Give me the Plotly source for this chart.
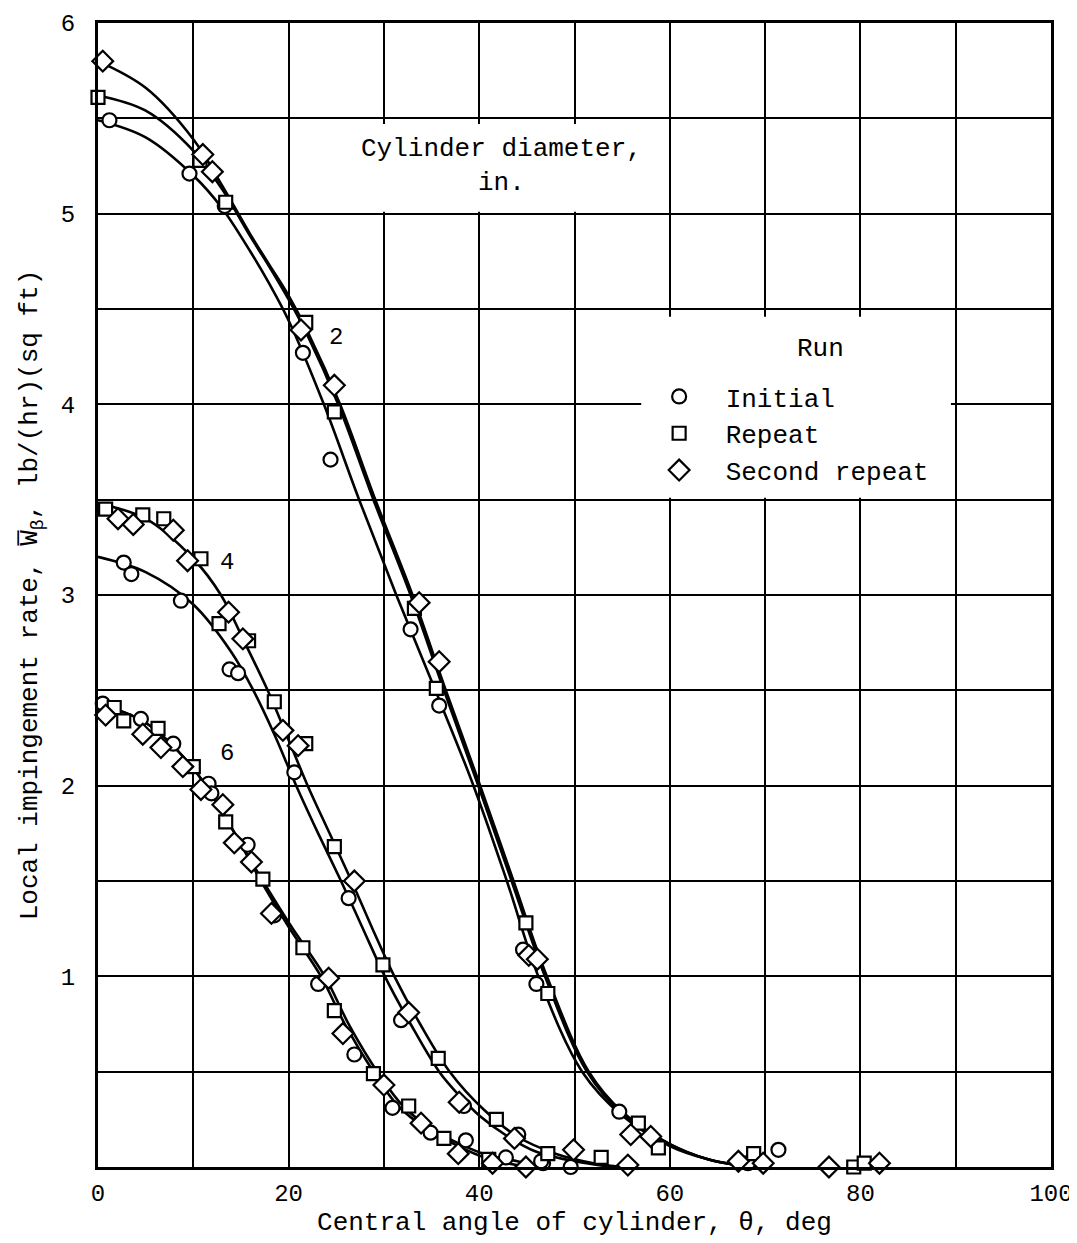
import plotly.graph_objects as go

# measured points, diameter 2 in.
d2_init_x = [1.2, 9.6, 13.3, 21.5, 24.4, 32.8, 35.8, 44.6, 46.0, 54.7, 68.2, 71.4]
d2_init_y = [5.49, 5.21, 5.04, 4.27, 3.71, 2.82, 2.42, 1.14, 0.96, 0.29, 0.02, 0.09]
d2_rep_x = [0.0, 10.7, 13.4, 21.8, 24.8, 33.2, 35.5, 44.9, 47.2, 56.7, 58.8, 68.8, 79.3, 80.4]
d2_rep_y = [5.61, 5.28, 5.06, 4.43, 3.96, 2.93, 2.51, 1.28, 0.91, 0.23, 0.10, 0.07, 0.0, 0.02]
d2_sec_x = [0.5, 11.0, 12.0, 21.3, 24.8, 33.7, 35.8, 45.2, 46.1, 55.9, 58.0, 67.2, 69.8, 76.7, 82.0]
d2_sec_y = [5.80, 5.31, 5.22, 4.39, 4.10, 2.96, 2.65, 1.11, 1.09, 0.17, 0.16, 0.03, 0.02, 0.0, 0.02]

# diameter 4 in.
d4_init_x = [2.7, 3.5, 8.7, 13.8, 14.7, 20.6, 26.3, 31.8, 38.4, 44.1, 46.7, 49.6]
d4_init_y = [3.17, 3.11, 2.97, 2.61, 2.59, 2.07, 1.41, 0.77, 0.32, 0.17, 0.02, 0.0]
d4_rep_x = [0.8, 4.7, 6.9, 10.8, 12.7, 15.8, 18.5, 21.8, 24.8, 29.9, 35.7, 41.8, 47.2, 52.8]
d4_rep_y = [3.45, 3.42, 3.40, 3.19, 2.85, 2.76, 2.44, 2.22, 1.68, 1.06, 0.57, 0.25, 0.07, 0.05]
d4_sec_x = [2.1, 3.7, 7.9, 9.4, 13.7, 15.2, 19.4, 21.0, 26.9, 32.6, 37.9, 43.7, 49.9, 55.6]
d4_sec_y = [3.40, 3.37, 3.34, 3.18, 2.91, 2.77, 2.29, 2.21, 1.50, 0.81, 0.34, 0.15, 0.09, 0.01]

# diameter 6 in.
d6_init_x = [0.5, 4.5, 7.9, 11.6, 11.9, 15.7, 18.5, 23.1, 26.9, 30.9, 34.9, 38.6, 42.8, 46.5]
d6_init_y = [2.43, 2.35, 2.22, 2.01, 1.96, 1.69, 1.32, 0.96, 0.59, 0.31, 0.18, 0.14, 0.05, 0.03]
d6_rep_x = [1.7, 2.7, 6.3, 10.0, 13.4, 17.3, 21.5, 24.8, 28.9, 32.6, 36.3, 41.0]
d6_rep_y = [2.41, 2.34, 2.30, 2.10, 1.81, 1.51, 1.15, 0.82, 0.49, 0.32, 0.15, 0.04]
d6_sec_x = [0.8, 4.7, 6.6, 8.9, 10.8, 13.1, 14.3, 16.1, 18.2, 24.2, 25.7, 30.0, 33.9, 37.8, 41.4, 44.9]
d6_sec_y = [2.37, 2.27, 2.20, 2.10, 1.98, 1.90, 1.70, 1.60, 1.33, 0.99, 0.70, 0.43, 0.23, 0.07, 0.02, 0.0]

# faired curves
c2a_x = [0, 5, 10, 13, 16, 18, 20, 23.7, 27.4, 31.3, 35.4, 39.4, 42.9, 46.2, 50.8, 55, 60, 64, 67]
c2a_y = [5.49, 5.40, 5.20, 5.03, 4.80, 4.63, 4.44, 4.0, 3.5, 3.0, 2.5, 2.0, 1.5, 1.0, 0.5, 0.27, 0.11, 0.04, 0.01]
c2b_x = [0, 5, 10, 13, 16, 18, 20, 22, 25.2, 28.9, 32.8, 36.3, 39.9, 43.4, 46.9, 51.3, 55, 60, 64, 67]
c2b_y = [5.62, 5.54, 5.33, 5.13, 4.88, 4.72, 4.55, 4.36, 4.0, 3.5, 3.0, 2.5, 2.0, 1.5, 1.0, 0.5, 0.28, 0.12, 0.04, 0.01]
c2c_x = [0, 5, 10, 13, 16, 18, 20, 22, 25.4, 29.1, 33.0, 36.5, 40.1, 43.6, 47.1, 51.5, 55, 60, 64, 67]
c2c_y = [5.80, 5.66, 5.39, 5.15, 4.89, 4.73, 4.57, 4.38, 4.0, 3.5, 3.0, 2.5, 2.0, 1.5, 1.0, 0.5, 0.29, 0.12, 0.04, 0.01]

c4a_x = [0, 5, 10, 14, 16.3, 18.5, 20.8, 23.1, 25.5, 27.8, 30.1, 32.8, 35.8, 38, 40, 43, 46, 50, 54]
c4a_y = [3.20, 3.12, 2.95, 2.70, 2.5, 2.27, 2.0, 1.75, 1.5, 1.25, 1.0, 0.75, 0.5, 0.37, 0.27, 0.16, 0.08, 0.03, 0.0]
c4b_x = [0, 5, 10, 12.9, 15.4, 17.8, 20, 22.0, 24.3, 26.6, 28.8, 31.1, 33.8, 36.9, 40.5, 44, 48, 52, 55]
c4b_y = [3.48, 3.40, 3.19, 3.0, 2.75, 2.5, 2.24, 2.0, 1.75, 1.5, 1.25, 1.0, 0.75, 0.5, 0.3, 0.16, 0.07, 0.02, 0.0]

c6a_x = [0, 5, 10, 14, 17.1, 20, 23.4, 26, 28.9, 31.5, 34.5, 37.4, 40, 42, 45]
c6a_y = [2.43, 2.33, 2.09, 1.78, 1.5, 1.26, 1.0, 0.74, 0.5, 0.32, 0.2, 0.12, 0.06, 0.03, 0.0]
c6b_x = [0, 5, 10, 14, 17.3, 20.3, 23.8, 26.4, 29.3, 32, 35, 38, 41, 44, 46]
c6b_y = [2.43, 2.33, 2.09, 1.78, 1.5, 1.26, 1.0, 0.74, 0.5, 0.32, 0.2, 0.12, 0.06, 0.03, 0.0]

x_ticks = [0, 20, 40, 60, 80, 100]
y_ticks = [1, 2, 3, 4, 5, 6]

FONT = "Liberation Mono, Courier New, monospace"

fig = go.Figure()

for cx, cy in ((c2a_x, c2a_y), (c2b_x, c2b_y), (c2c_x, c2c_y), (c4a_x, c4a_y),
               (c4b_x, c4b_y), (c6a_x, c6a_y), (c6b_x, c6b_y)):
    fig.add_trace(go.Scatter(x=cx, y=cy, mode="lines", line=dict(color="black", width=2.6, shape="spline", smoothing=1.0),
                             showlegend=False, hoverinfo="skip"))

runs = [
    ("Initial", "circle", 14, [(d2_init_x, d2_init_y), (d4_init_x, d4_init_y), (d6_init_x, d6_init_y)]),
    ("Repeat", "square", 13, [(d2_rep_x, d2_rep_y), (d4_rep_x, d4_rep_y), (d6_rep_x, d6_rep_y)]),
    ("Second repeat", "diamond", 16, [(d2_sec_x, d2_sec_y), (d4_sec_x, d4_sec_y), (d6_sec_x, d6_sec_y)]),
]
for name, symbol, size, sets in runs:
    for i, (px, py) in enumerate(sets):
        fig.add_trace(go.Scatter(
            x=px, y=py, mode="markers", name=name, legendgroup=name, showlegend=(i == 0),
            marker=dict(symbol=symbol, size=size, color="white", line=dict(color="black", width=2.2)),
            cliponaxis=False,
        ))

# white patches behind the text blocks, hiding the grid as in the original
fig.add_shape(type="rect", xref="x", yref="y", x0=26, x1=58.5, y0=5.01, y1=5.47,
              fillcolor="white", line_width=0, layer="between")
fig.add_shape(type="rect", xref="x", yref="y", x0=57, x1=89.5, y0=3.51, y1=4.46,
              fillcolor="white", line_width=0, layer="between")

fig.add_annotation(x=42.3, y=5.25, text="Cylinder diameter,<br>in.", showarrow=False,
                   font=dict(family=FONT, size=26, color="black"))
fig.add_annotation(x=75.8, y=4.29, text="Run", showarrow=False,
                   font=dict(family=FONT, size=26, color="black"))
for lx, ly, lt in ((25.0, 4.35, "2"), (13.5, 3.17, "4"), (13.5, 2.17, "6")):
    fig.add_annotation(x=lx, y=ly, text=lt, showarrow=False, font=dict(family=FONT, size=24, color="black"))

axis_common = dict(
    showline=True, linecolor="black", linewidth=3, mirror=True,
    showgrid=True, gridcolor="black", gridwidth=1.6,
    zeroline=False, ticks="outside", tickcolor="rgba(0,0,0,0)",
    tickfont=dict(family=FONT, size=24, color="black"), automargin=False,
)

fig.update_xaxes(range=[0, 100], tickvals=x_ticks, ticklen=2,
                 minor=dict(dtick=10, tick0=0, showgrid=True, gridcolor="black", gridwidth=1.6),
                 title=dict(text="Central angle of cylinder, θ, deg", font=dict(family=FONT, size=26, color="black"), standoff=6),
                 **axis_common)
fig.update_yaxes(range=[0, 6], tickvals=y_ticks, ticklen=15,
                 minor=dict(dtick=0.5, tick0=0, showgrid=True, gridcolor="black", gridwidth=1.6),
                 title=dict(text="Local impingement rate, W\u0305<sub>β</sub>, lb/(hr)(sq ft)",
                            font=dict(family=FONT, size=26, color="black"), standoff=16),
                 **axis_common)

# the page adds a few pixels of margin, so the margins are shifted to keep the frame in place
fig.update_layout(
    width=1077, height=1235,
    margin=dict(l=90, r=34, t=15, b=76),
    paper_bgcolor="white", plot_bgcolor="white",
    font=dict(family=FONT, color="black"),
    legend=dict(
        x=0.561, y=0.694, xanchor="left", yanchor="top",
        font=dict(family=FONT, size=26, color="black"),
        bgcolor="rgba(0,0,0,0)", itemwidth=83, tracegroupgap=0,
    ),
)

fig.write_html("out.html")
